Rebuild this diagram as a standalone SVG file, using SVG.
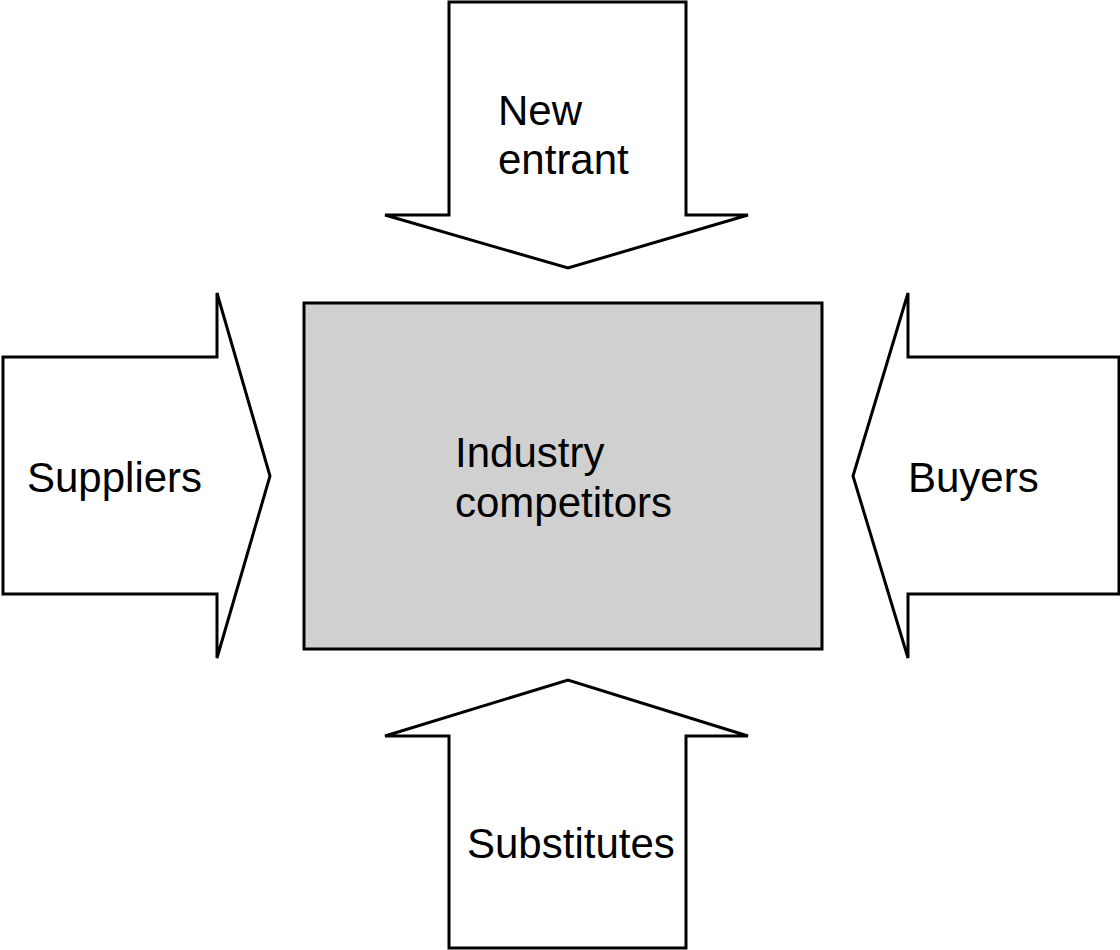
<svg xmlns="http://www.w3.org/2000/svg" width="1120" height="950" viewBox="0 0 1120 950">
<style>
.arr{fill:#fff;stroke:#000;stroke-width:3;stroke-linejoin:miter}
.box{fill:#d0d0d0;stroke:#000;stroke-width:3}
.t{font-family:"Liberation Sans",Arial,sans-serif;font-size:42px;fill:#000}
</style>
<rect width="1120" height="950" fill="#fff"/>
<g id="connectors">
<g id="new-entrant">
<polygon class="arr" points="449,2 686,2 686,215 748,215 568,268 385,215 449,215"/>
<text class="t" x="498" y="125">New</text>
<text class="t" x="498" y="174">entrant</text>
</g>
<g id="suppliers">
<polygon class="arr" points="3,357 217,357 217,293 270,476 217,658 217,594 3,594"/>
<text class="t" x="27" y="492">Suppliers</text>
</g>
<g id="buyers">
<polygon class="arr" points="1119,357 908,357 908,293 853,476 908,658 908,594 1119,594"/>
<text class="t" x="908" y="492">Buyers</text>
</g>
<g id="substitutes">
<polygon class="arr" points="449,948 686,948 686,736 748,736 568,680 385,736 449,736"/>
<text class="t" x="467" y="858">Substitutes</text>
</g>
</g>
<g id="industry">
<rect class="box" x="304" y="303" width="518" height="346"/>
<text class="t" x="455" y="467">Industry</text>
<text class="t" x="455" y="517">competitors</text>
</g>
</svg>
